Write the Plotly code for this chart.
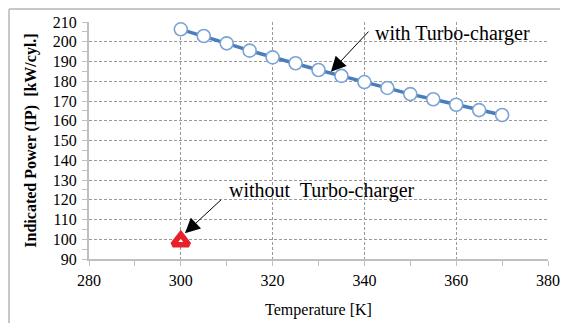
import plotly.graph_objects as go

temperature = [300, 305, 310, 315, 320, 325, 330, 335, 340, 345, 350, 355, 360, 365, 370]
ip_with_turbo = [206.3, 202.9, 199.2, 195.5, 192.1, 189.1, 185.7, 182.7, 179.6, 176.6,
                 173.5, 170.9, 168.1, 165.4, 162.9]
temp_without = [300]
ip_without_turbo = [99.0]

x_ticks = [280, 300, 320, 340, 360, 380]
y_ticks = list(range(90, 211, 10))

FONT = "Liberation Serif, Times New Roman, serif"
GRID = "#9a9a9a"
AXIS = "#bfbfbf"

# page body has an 8px margin, so the figure is sized to fit inside it
W, H = 552, 315
L, R, T, B = 81, 12, 14, 64
PW, PH = W - L - R, H - T - B

fig = go.Figure()
fig.add_trace(go.Scatter(
    x=temperature, y=ip_with_turbo, mode="lines+markers",
    line=dict(color="#4a7ebb", width=3.5),
    marker=dict(symbol="circle", size=13, color="white",
                line=dict(color="#7aa3d6", width=1.6)),
    showlegend=False, cliponaxis=False,
))
fig.add_trace(go.Scatter(
    x=temp_without, y=ip_without_turbo, mode="markers",
    marker=dict(symbol="triangle-up", size=14, color="white",
                line=dict(color="#e8202a", width=5.5)),
    showlegend=False, cliponaxis=False,
))

# arrows
fig.add_annotation(x=332.7, y=184.8, ax=341.2, ay=205.9, axref="x", ayref="y",
                   xref="x", yref="y", text="", showarrow=True,
                   arrowhead=2, arrowsize=3, arrowwidth=1, arrowcolor="black")
fig.add_annotation(x=300.9, y=103.0, ax=309.1, ay=120.7, axref="x", ayref="y",
                   xref="x", yref="y", text="", showarrow=True,
                   arrowhead=2, arrowsize=3, arrowwidth=1, arrowcolor="black")
# labels
fig.add_annotation(x=341.9, y=204.4, xref="x", yref="y", text="with Turbo-charger",
                   showarrow=False, xanchor="left", yanchor="middle",
                   font=dict(family=FONT, size=20, color="black"))
fig.add_annotation(x=310.1, y=124.6, xref="x", yref="y",
                   text="without\u00a0 Turbo-charger",
                   showarrow=False, xanchor="left", yanchor="middle",
                   font=dict(family=FONT, size=20, color="black"))

# outer frame (top and left)
top_y = (H - B - 1) / PH
left_x = (1 - L) / PW
fig.add_shape(type="line", xref="paper", yref="paper",
              x0=left_x, x1=(W - L) / PW, y0=top_y, y1=top_y,
              line=dict(color="#c8c8c8", width=2))
fig.add_shape(type="line", xref="paper", yref="paper",
              x0=left_x, x1=left_x, y0=-B / PH, y1=top_y,
              line=dict(color="#c8c8c8", width=2))

fig.update_layout(
    width=W, height=H,
    margin=dict(l=L, r=R, t=T, b=B, autoexpand=False),
    paper_bgcolor="white", plot_bgcolor="white",
    font=dict(family=FONT, size=16, color="black"),
)
fig.update_xaxes(
    range=[280, 380], tickvals=x_ticks, ticktext=[str(v) for v in x_ticks],
    showgrid=True, gridcolor=GRID, gridwidth=1, griddash="3px,2px",
    showline=True, linecolor=AXIS, linewidth=2,
    ticks="outside", ticklen=5, tickcolor=AXIS, tickwidth=1,
    minor=dict(tickvals=[290, 310, 330, 350, 370], ticks="outside", ticklen=5,
               tickcolor=AXIS, showgrid=False),
    ticklabelstandoff=1, automargin=False,
    tickfont=dict(family=FONT, size=16, color="black"),
    title=dict(text="Temperature [K]", font=dict(family=FONT, size=16), standoff=16),
    zeroline=False,
)
fig.update_yaxes(
    range=[90, 210], tickvals=y_ticks, ticktext=[str(v) for v in y_ticks],
    showgrid=True, gridcolor=GRID, gridwidth=1, griddash="3px,2px",
    showline=True, linecolor=AXIS, linewidth=2,
    ticks="outside", ticklen=5, tickcolor=AXIS, tickwidth=1,
    minor=dict(dtick=5, ticks="outside", ticklen=5, tickcolor=AXIS, showgrid=False),
    ticklabelstandoff=2, automargin=False,
    tickfont=dict(family=FONT, size=16, color="black"),
    title=dict(text="<b>Indicated Power (IP)  [kW/cyl.]</b>",
               font=dict(family=FONT, size=16), standoff=12),
    zeroline=False,
)

fig.write_html("out.html")
